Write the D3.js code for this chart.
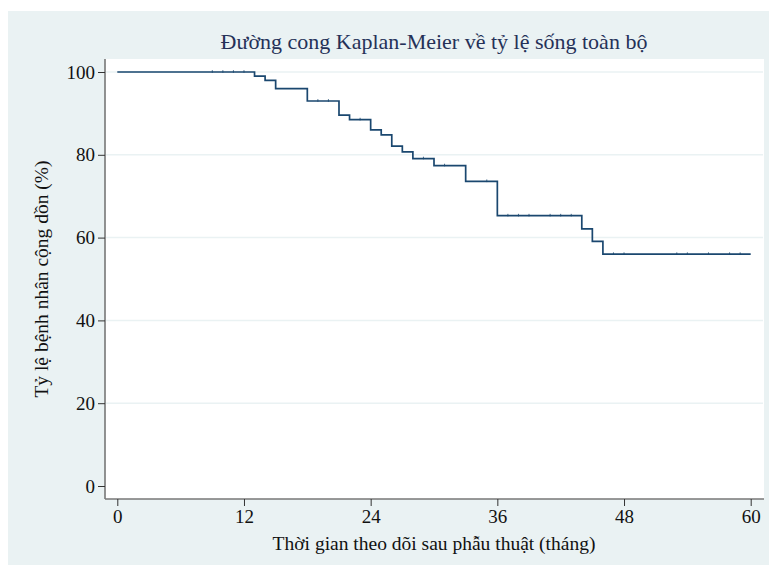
<!DOCTYPE html>
<html>
<head>
<meta charset="utf-8">
<script src="https://cdn.jsdelivr.net/npm/d3@7"></script>
<style>
  html,body{margin:0;padding:0;background:#fff;}
  svg{display:block;font-family:"Liberation Serif","DejaVu Serif",serif;}
</style>
</head>
<body>
<svg id="chart" width="769" height="566"></svg>
<script>
// ---- data ----
const title = 'Đường cong Kaplan-Meier về tỷ lệ sống toàn bộ';
const xTitle = 'Thời gian theo dõi sau phẫu thuật (tháng)';
const yTitle = 'Tỷ lệ bệnh nhân cộng dồn (%)';
const xTicks = [0, 12, 24, 36, 48, 60];
const yTicks = [0, 20, 40, 60, 80, 100];
const eventTimes = [13, 14, 15, 18, 21, 22, 24, 25, 26, 27, 28, 30, 33, 36, 44, 45, 46];
const survival   = [99.0, 98.0, 96.0, 93.0, 89.6, 88.5, 86.0, 84.8, 82.1, 80.7, 79.1, 77.4, 73.6, 65.3, 62.1, 59.1, 56.0];
const censorTimes = [9, 10, 11, 12, 19, 20, 23, 29, 31, 35, 37, 38, 39, 41, 42, 43, 47, 48, 53, 54, 56, 58, 59];
const endTime = 60;

(function(){
  const svg = d3.select('#chart');
  const BG = '#EAF2F3', LINE = '#1A476F', AXIS = '#777777';
  const FONT = '"Liberation Serif","DejaVu Serif",serif';
  // outer graph region
  svg.append('rect').attr('x', 8).attr('y', 11).attr('width', 761).attr('height', 554).attr('fill', BG);
  // plot region
  const L = 105, T = 59, R = 764, B = 499;
  svg.append('rect').attr('x', L).attr('y', T).attr('width', R - L).attr('height', B - T).attr('fill', '#fff');

  const x = d3.scaleLinear().domain([0, 60]).range([117.3, 750.7]);
  const y = d3.scaleLinear().domain([0, 100]).range([486, 72]);

  // gridlines
  svg.append('g').selectAll('line').data(yTicks.filter(v => v > 0)).join('line')
    .attr('x1', L + 1).attr('x2', R - 1).attr('y1', v => y(v)).attr('y2', v => y(v))
    .attr('stroke', BG).attr('stroke-width', 1.5);

  // axes
  const yAxis = svg.append('g').attr('transform', `translate(${L},0)`)
    .call(d3.axisLeft(y).tickValues(yTicks).tickSize(7).tickPadding(3).tickSizeOuter(0));
  yAxis.select('.domain').attr('d', `M0,${T}V${B}`);
  const xAxis = svg.append('g').attr('transform', `translate(0,${B})`)
    .call(d3.axisBottom(x).tickValues(xTicks).tickSize(7).tickPadding(4).tickSizeOuter(0));
  xAxis.select('.domain').attr('d', `M${L},0H${R}`);
  svg.selectAll('g.tick').each(function(){ d3.select(this.parentNode).attr('font-family', FONT); });
  svg.selectAll('.domain').attr('stroke', AXIS).attr('stroke-width', 1.6);
  svg.selectAll('.tick line').attr('stroke', '#333').attr('stroke-width', 1);
  svg.selectAll('.tick text').style('font-family', FONT).attr('font-size', 19).attr('fill', '#111');

  // KM step curve
  const pts = [[0, 100]].concat(eventTimes.map((t, i) => [t, survival[i]]));
  pts.push([endTime, survival[survival.length - 1]]);
  const line = d3.line().x(d => x(d[0])).y(d => y(d[1])).curve(d3.curveStepAfter);
  svg.append('path').attr('d', line(pts)).attr('fill', 'none').attr('stroke', LINE).attr('stroke-width', 1.7);

  // censoring ticks (small, barely above the line)
  const survAt = t => { let s = 100; eventTimes.forEach((e, i) => { if (e <= t) s = survival[i]; }); return s; };
  svg.append('g').selectAll('line').data(censorTimes).join('line')
    .attr('x1', t => x(t)).attr('x2', t => x(t))
    .attr('y1', t => y(survAt(t)) - 1.8).attr('y2', t => y(survAt(t)) + 0.8)
    .attr('stroke', LINE).attr('stroke-width', 1).attr('opacity', 0.8);

  // titles
  svg.append('text').attr('x', 434).attr('y', 49).attr('text-anchor', 'middle')
    .attr('font-size', 22).attr('fill', '#253158').text(title);
  svg.append('text').attr('x', 434).attr('y', 550).attr('text-anchor', 'middle')
    .attr('font-size', 19.5).attr('fill', '#111').text(xTitle);
  svg.append('text').attr('transform', `translate(48,${(T + B) / 2}) rotate(-90)`).attr('text-anchor', 'middle')
    .attr('font-size', 19.5).attr('fill', '#111').text(yTitle);
})();
</script>
</body>
</html>
